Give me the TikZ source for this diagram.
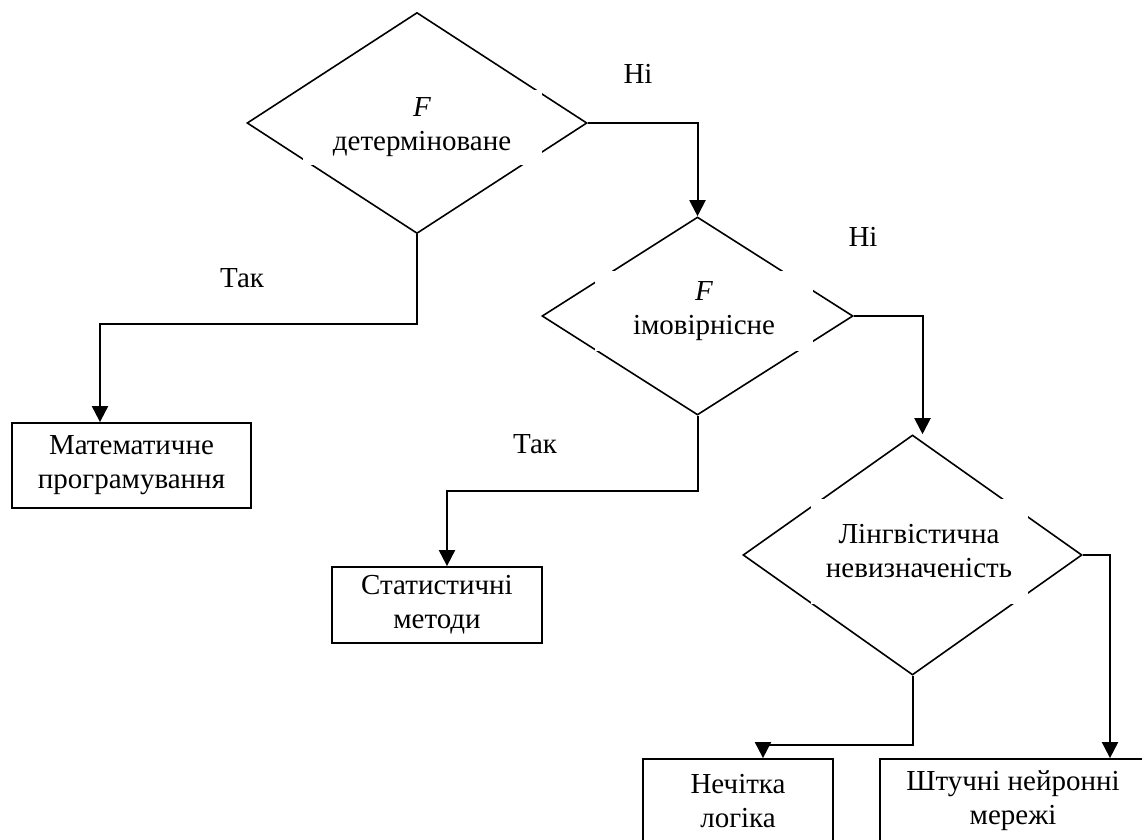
\documentclass[tikz,border=0pt]{standalone}
\usepackage{fontspec}
\setmainfont{Liberation Serif}
\usetikzlibrary{shapes.geometric,arrows.meta}
\begin{document}
\begin{tikzpicture}[x=1pt,y=-1pt,
  font=\fontsize{29}{34}\selectfont,
  rhomb/.style={draw,diamond,line width=1.6pt,inner sep=0pt},
  gapbox/.style={fill=white,align=center,inner sep=0pt},
  block/.style={draw,line width=1.8pt,align=center,inner sep=0pt},
  arr/.style={-{Triangle[length=16pt,width=16pt]},line width=2pt}]
 \useasboundingbox (0,0) rectangle (1142,839);
 % decisions
 \node[rhomb,minimum width=340pt,minimum height=221pt] (d1) at (417,123) {};
 \node[gapbox,minimum width=239pt,minimum height=75pt] (t1) at (422,127) {\textit{F}\\детерміноване};
 \node[rhomb,minimum width=311pt,minimum height=198pt] (d2) at (697.5,316) {};
 \node[gapbox,minimum width=218pt,minimum height=80pt] (t2) at (704,311) {\textit{F}\\імовірнісне};
 \node[rhomb,minimum width=339pt,minimum height=240pt] (d3) at (912.5,555) {};
 \node[gapbox,minimum width=217pt,minimum height=105pt] (t3) at (919,551) {Лінгвістична\\невизначеність};
 % results
 \node[block,minimum width=239pt,minimum height=85pt] (b1) at (131.5,465.5) {Математичне\\програмування};
 \node[block,minimum width=210pt,minimum height=76pt] (b2) at (437,605) {Статистичні\\методи};
 \node[block,minimum width=190pt,minimum height=84pt] (b3) at (738,801) {Нечітка\\логіка};
 \node[block,minimum width=266pt,minimum height=84pt] (b4) at (1013,801) {Штучні нейронні\\мережі};
 % labels
 \node[anchor=base] (n1) at (638,83) {Ні};
 \node[anchor=base] (n2) at (863,246) {Ні};
 \node[anchor=base] (y1) at (242,287) {Так};
 \node[anchor=base] (y2) at (535,453) {Так};
 % connectors
 \draw[arr] (d1.east) -| (d2.north);
 \draw[arr] (d1.south) -- ++(0,90) -| ([xshift=-31.5pt]b1.north);
 \draw[arr] (d2.east) -| ([xshift=10pt]d3.north);
 \draw[arr] (d2.south) -- ++(0,75) -| ([xshift=10pt]b2.north);
 \draw[arr] (d3.east) -| ([xshift=97pt]b4.north);
 \draw[arr] (d3.south) -- ++(0,69) -| ([xshift=25pt]b3.north);
\end{tikzpicture}
\end{document}
